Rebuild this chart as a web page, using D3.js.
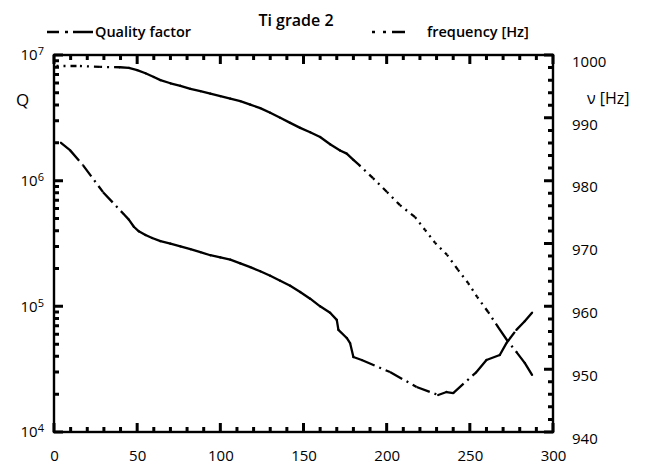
<!DOCTYPE html>
<html>
<head>
<meta charset="utf-8">
<script src="https://cdn.jsdelivr.net/npm/d3@7"></script>
<style>
  body { margin: 0; background: #fff; }
  text { font-family: "Open Sans", sans-serif; fill: #000; }
</style>
</head>
<body>
<div id="chart"></div>
<script>
'use strict';

// temperature axis ticks and labels
const xTicks = [0, 50, 100, 150, 200, 250, 300];
const qDecades = [1e4, 1e5, 1e6, 1e7];
const qExponents = ["4", "5", "6", "7"];
const freqTicks = [940, 950, 960, 970, 980, 990, 1000];

// Quality factor series (x, Q)
const qX = [4.2, 9.6, 17.4, 29.5, 42,
    45, 48, 51, 55, 59, 64, 70, 76, 82, 88, 94, 100, 106, 112, 118, 124, 130,
    136, 142, 148, 154, 160, 166, 170, 171, 176, 178, 180,
    185, 202, 218, 231, 236, 240, 254, 260, 268, 272, 278, 283, 287.4];
const qVal = [2.0e6, 1.75e6, 1.33e6, 8.1e5, 5.4e5,
    4.9e5, 4.3e5, 3.95e5, 3.7e5, 3.5e5, 3.3e5, 3.15e5, 3.0e5, 2.85e5, 2.7e5, 2.55e5, 2.45e5, 2.35e5, 2.2e5, 2.05e5, 1.9e5, 1.75e5,
    1.6e5, 1.46e5, 1.3e5, 1.15e5, 1.0e5, 8.9e4, 7.8e4, 6.5e4, 5.6e4, 5.1e4, 3.95e4,
    3.74e4, 3.0e4, 2.28e4, 1.97e4, 2.08e4, 2.04e4, 3.0e4, 3.74e4, 4.1e4, 5.1e4, 6.5e4, 7.6e4, 8.9e4];

// frequency series (x, Hz)
const fX = [1.5, 15.6, 27.7, 39.7,
    45, 50, 55, 60, 64, 70, 76, 82, 88, 94, 100, 106, 112, 118, 124, 130,
    136, 142, 148, 154, 160, 166, 172, 176, 180,
    183.4, 191.8, 200.2, 208, 217.1, 223.1, 229.1, 236.3, 242.9, 249, 254.4,
    261, 267, 272.4, 278.4, 283, 287.4];
const fVal = [998.25, 998.25, 998.1, 998.05,
    997.95, 997.6, 997.1, 996.5, 996.0, 995.5, 995.1, 994.6, 994.25, 993.85, 993.45, 993.05, 992.65, 992.1, 991.55, 990.8,
    990.0, 989.2, 988.4, 987.7, 986.95, 985.8, 984.8, 984.3, 983.3,
    982.5, 980.4, 978.2, 976.1, 974.2, 972.15, 970.1, 968.2, 965.8, 963.7, 961.5,
    959.1, 956.7, 954.6, 952.6, 951.0, 949.1];

const W = 657, H = 470;
const plotLeft = 54, plotRight = 553, plotTop = 55, plotBottom = 432;

const svg = d3.select("#chart").append("svg")
    .attr("width", W).attr("height", H);

const x = d3.scaleLinear().domain([0, 300]).range([plotLeft, plotRight]);
const yQ = d3.scaleLog().domain([1e4, 1e7]).range([plotBottom, plotTop]);
const yF = d3.scaleLinear().domain([940, 1000]).range([plotBottom, plotTop]);

// minor tick values
const xMinor = d3.range(0, 301, 10).filter(v => v % 50 !== 0);
const qMinor = [];
[1e4, 1e5, 1e6].forEach(d => { for (let k = 2; k <= 9; k++) qMinor.push(d * k); });
const fMinor = d3.range(940, 1001, 2).filter(v => v % 10 !== 0);

// frame
svg.append("rect")
    .attr("x", plotLeft).attr("y", plotTop)
    .attr("width", plotRight - plotLeft).attr("height", plotBottom - plotTop)
    .attr("fill", "none").attr("stroke", "#000").attr("stroke-width", 2.4);

// inward tick marks on all four sides, one path per set
const tickPath = (vals, len, side) => {
    const d = vals.map(v => {
        if (side === "bottom") return "M" + x(v) + "," + plotBottom + "L" + x(v) + "," + (plotBottom - len);
        if (side === "top") return "M" + x(v) + "," + plotTop + "L" + x(v) + "," + (plotTop + len);
        if (side === "left") return "M" + plotLeft + "," + yQ(v) + "L" + (plotLeft + len) + "," + yQ(v);
        return "M" + plotRight + "," + yF(v) + "L" + (plotRight - len) + "," + yF(v);
    }).join("");
    svg.append("path").attr("d", d)
        .attr("fill", "none").attr("stroke", "#000").attr("stroke-width", 3);
};
tickPath(xTicks, 9, "bottom");
tickPath(xMinor, 5, "bottom");
tickPath(xTicks, 9, "top");
tickPath(xMinor, 5, "top");
tickPath(qDecades, 9, "left");
tickPath(qMinor, 5, "left");
tickPath(freqTicks, 9, "right");
tickPath(fMinor, 5, "right");

// bottom labels
const gB = svg.append("g").attr("transform", "translate(0," + plotBottom + ")");
gB.call(d3.axisBottom(x).tickValues(xTicks).tickSize(0).tickPadding(18)
    .tickFormat(d3.format("d")));

// right labels
const gR = svg.append("g").attr("transform", "translate(" + plotRight + ",0)");
gR.call(d3.axisRight(yF).tickValues(freqTicks).tickSize(0).tickPadding(19)
    .tickFormat(d3.format("d")));

gB.select(".domain").remove();
gR.select(".domain").remove();
gB.selectAll(".tick line").remove();
gR.selectAll(".tick line").remove();
svg.selectAll(".tick text").style("font-size", "15px").style("font-family", "'Open Sans', sans-serif");
gR.selectAll(".tick text").attr("dy", "0.75em");

// left labels 10^n
qDecades.forEach((d, i) => {
    const t = svg.append("text")
        .attr("x", 44).attr("y", yQ(d)).attr("dy", "0.35em")
        .attr("text-anchor", "end").style("font-size", "15px");
    t.append("tspan").text("10");
    t.append("tspan").attr("dy", "-0.45em").style("font-size", "11px").text(qExponents[i]);
});

// axis titles
svg.append("text").attr("x", 16).attr("y", 106).style("font-size", "17px").text("Q");
svg.append("text").attr("x", 587).attr("y", 104).style("font-size", "16px").text("ν [Hz]");

// title and legend
svg.append("text").attr("x", 296).attr("y", 26).attr("text-anchor", "middle")
    .style("font-size", "16px").style("font-weight", "600").text("Ti grade 2");

svg.append("line").attr("x1", 47).attr("x2", 93).attr("y1", 32).attr("y2", 32)
    .attr("stroke", "#000").attr("stroke-width", 2.3).attr("stroke-dasharray", "12,6,3,5,20");
svg.append("text").attr("x", 95).attr("y", 37).style("font-size", "14.5px")
    .style("font-weight", "600").text("Quality factor");

svg.append("line").attr("x1", 372).attr("x2", 405).attr("y1", 32).attr("y2", 32)
    .attr("stroke", "#000").attr("stroke-width", 2.3).attr("stroke-dasharray", "3,8,3,6,13");
svg.append("text").attr("x", 427).attr("y", 37).style("font-size", "14.5px")
    .style("font-weight", "600").text("frequency [Hz]");

// draw a series as separate segments; long segments get the dash pattern
const drawSeries = (xs, ys, yScale, dash) => {
    const g = svg.append("g");
    for (let i = 0; i < xs.length - 1; i++) {
        const x1 = x(xs[i]), y1 = yScale(ys[i]);
        const x2 = x(xs[i + 1]), y2 = yScale(ys[i + 1]);
        const len = Math.hypot(x2 - x1, y2 - y1);
        g.append("line")
            .attr("x1", x1).attr("y1", y1).attr("x2", x2).attr("y2", y2)
            .attr("stroke", "#000").attr("stroke-width", 2.3)
            .attr("stroke-linecap", len > 16 ? "butt" : "round")
            .attr("stroke-dasharray", len > 16 ? dash : null);
    }
};

drawSeries(qX, qVal, yQ, "14,5,2,5");
drawSeries(fX, fVal, yF, "2,5,2,5,6,5");
</script>
</body>
</html>
